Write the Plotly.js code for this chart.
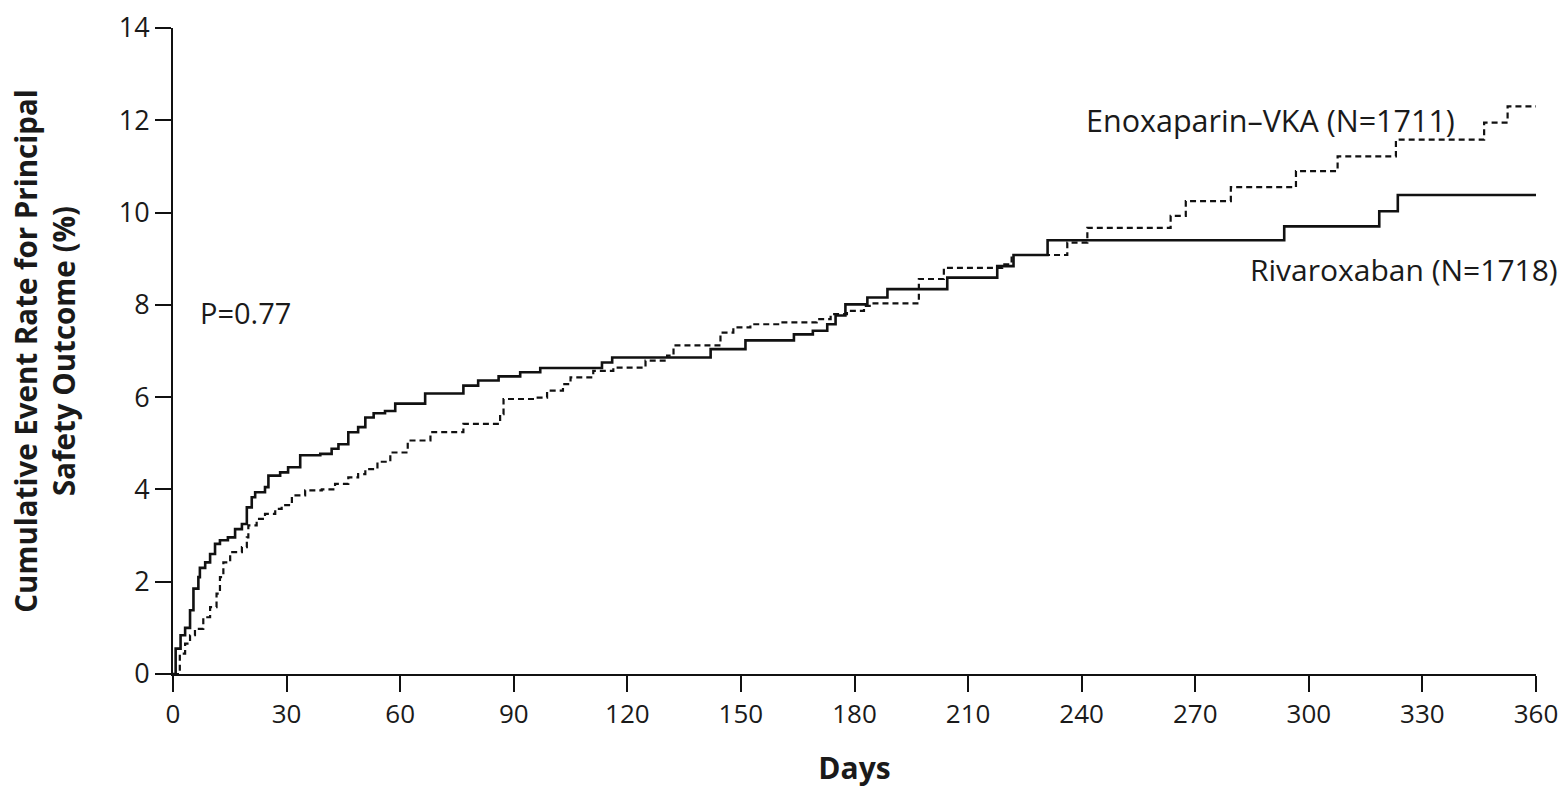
<!DOCTYPE html>
<html>
<head>
<meta charset="utf-8">
<script src="https://cdn.plot.ly/plotly-3.0.1.min.js"></script>
<style>
html,body{margin:0;padding:0;background:#fff;}
#chart{width:1567px;height:789px;}
</style>
</head>
<body>
<div id="chart"></div>
<script>
// Rivaroxaban (solid) step points: day, cumulative rate (%)
const rivDays = [0,0.7,2,3.2,4.5,5.4,6.7,7.1,8.5,9.8,11.1,12.4,14.5,16.4,18.2,19.5,20.8,21.7,24.3,25.2,28.3,30.4,33.6,38.9,41.9,43.7,46.3,48.9,50.8,53,56,58.7,66.6,76.7,80.6,86,91.7,97,113.3,116,142,151.2,164,169,172.8,175,177.6,183.4,188.7,204.5,217.7,222,231,293.5,318.6,323.5,360];
const rivRate = [0,0.55,0.84,1.0,1.38,1.85,2.1,2.3,2.42,2.6,2.82,2.9,2.96,3.14,3.25,3.61,3.83,3.94,4.05,4.3,4.37,4.48,4.74,4.77,4.88,4.98,5.24,5.35,5.56,5.65,5.7,5.86,6.08,6.25,6.36,6.45,6.54,6.63,6.75,6.86,7.04,7.23,7.36,7.44,7.58,7.77,8.01,8.16,8.34,8.59,8.84,9.08,9.4,9.7,10.03,10.38,10.38];

// Enoxaparin-VKA (dashed) step points
const enoDays = [0,1.8,3.2,4.5,5.8,8,9.8,11.5,12.4,13.3,15.1,18.2,19.5,19.9,22.1,24.3,27,28.7,31.4,34.9,39.3,42.8,46.3,48.9,50.8,54,57.4,62,68,76.7,86.4,87.3,96,98.8,103,105,111,116.3,124.8,130.5,132.2,144.6,148,152.5,160.5,170,173.7,178,182.5,184.7,197,203.6,219,221.5,236.2,241.5,263.5,267.5,279.4,296.6,307.6,323,346.3,352.5,360];
const enoRate = [0,0.44,0.66,0.84,0.98,1.23,1.45,1.74,2.1,2.42,2.64,2.75,2.96,3.22,3.36,3.47,3.58,3.66,3.87,3.98,4.0,4.12,4.26,4.33,4.44,4.6,4.8,5.06,5.24,5.42,5.63,5.96,5.99,6.14,6.28,6.43,6.57,6.64,6.79,6.9,7.12,7.4,7.51,7.58,7.62,7.69,7.8,7.87,7.98,8.03,8.56,8.8,8.88,9.08,9.35,9.67,9.93,10.25,10.55,10.9,11.22,11.58,11.95,12.3,12.3];

const xTicks = [0,30,60,90,120,150,180,210,240,270,300,330,360];
const yTicks = [0,2,4,6,8,10,12,14];

const FONT = '"Open Sans", "Noto Sans", sans-serif';
const TXT = '#1a1a1a';

const traces = [
  {x: enoDays, y: enoRate, type:'scatter', mode:'lines', name:'Enoxaparin–VKA (N=1711)',
   line:{shape:'hv', color:'#111', width:2.2, dash:'6px,4px'}},
  {x: rivDays, y: rivRate, type:'scatter', mode:'lines', name:'Rivaroxaban (N=1718)',
   line:{shape:'hv', color:'#111', width:2.6}}
];

const layout = {
  width:1567, height:789,
  paper_bgcolor:'#fff', plot_bgcolor:'#fff',
  margin:{l:173, r:31, t:28, b:115},
  showlegend:false,
  font:{family:FONT, color:TXT, size:26},
  xaxis:{
    range:[0,360], tickvals:xTicks, ticktext:xTicks.map(String),
    showline:true, linecolor:'#111', linewidth:2, mirror:false,
    ticks:'outside', ticklen:16, tickwidth:2, tickcolor:'#111',
    showgrid:false, zeroline:false,
    tickfont:{family:FONT, size:26, color:TXT},
    title:{text:'<b>Days</b>', font:{family:FONT, size:30, color:TXT}, standoff:28}
  },
  yaxis:{
    range:[0,14], tickvals:yTicks, ticktext:yTicks.map(String),
    showline:true, linecolor:'#111', linewidth:2,
    ticks:'outside', ticklen:16, tickwidth:2, tickcolor:'#111',
    showgrid:false, zeroline:false,
    tickfont:{family:FONT, size:27, color:TXT},
    title:{text:'<b>Cumulative Event Rate for Principal<br>Safety Outcome (%)</b>', font:{family:FONT, size:29.5, color:TXT}, standoff:34}
  },
  annotations:[
    {x:240.5, y:12.0, xref:'x', yref:'y', text:'Enoxaparin–VKA (N=1711)', showarrow:false, xanchor:'left', yanchor:'middle', font:{family:FONT, size:30.5, color:TXT}},
    {x:283.9, y:8.77, xref:'x', yref:'y', text:'Rivaroxaban (N=1718)', showarrow:false, xanchor:'left', yanchor:'middle', font:{family:FONT, size:30, color:TXT}},
    {x:6.5, y:7.83, xref:'x', yref:'y', text:'P=0.77', showarrow:false, xanchor:'left', yanchor:'middle', font:{family:FONT, size:29, color:TXT}}
  ]
};

Plotly.newPlot('chart', traces, layout, {displayModeBar:false, staticPlot:true});
</script>
</body>
</html>
